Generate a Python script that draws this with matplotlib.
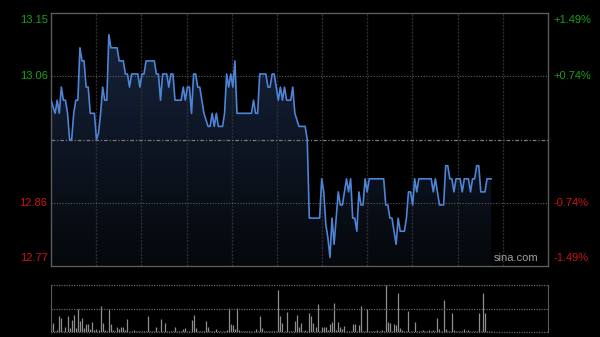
"""Intraday price / volume chart in the sina.com style."""

import matplotlib
matplotlib.use("Agg")
import matplotlib.pyplot as plt
import numpy as np

plt.rcParams["font.family"] = ["Liberation Sans", "DejaVu Sans"]

# ---- data ---------------------------------------------------------------
PREV_CLOSE = 12.96
PCT_RANGE = 1.49          # percent, full half-height of the price panel
N_SLOTS = 241             # minutes in a full trading day

price = [
    13.02, 13.01, 13.00, 13.02, 13.00, 13.04, 13.02, 13.02, 13.00, 12.96,
    12.96, 13.00, 13.02, 13.02, 13.10, 13.08, 13.08, 13.04, 13.04, 13.00,
    13.00, 13.00, 12.96, 12.97, 13.00, 13.04, 13.02, 13.02, 13.12, 13.10,
    13.10, 13.10, 13.10, 13.08, 13.08, 13.08, 13.06, 13.06, 13.04, 13.06,
    13.06, 13.06, 13.06, 13.04, 13.06, 13.06, 13.08, 13.08, 13.08, 13.08,
    13.08, 13.06, 13.06, 13.02, 13.06, 13.06, 13.06, 13.04, 13.06, 13.06,
    13.02, 13.02, 13.02, 13.02, 13.04, 13.02, 13.04, 13.04, 13.00, 13.06,
    13.06, 13.04, 13.04, 13.02, 13.00, 12.99, 12.98, 12.98, 13.00, 12.98,
    13.00, 12.98, 12.98, 12.98, 13.00, 13.06, 13.04, 13.06, 13.04, 13.08,
    13.00, 13.00, 13.00, 13.00, 13.00, 13.00, 13.00, 13.00, 13.02, 13.00,
    13.00, 13.06, 13.06, 13.06, 13.06, 13.04, 13.04, 13.06, 13.06, 13.04,
    13.02, 13.04, 13.02, 13.04, 13.02, 13.02, 13.02, 13.04, 13.00, 12.99,
    12.98, 12.98, 12.98, 12.98, 12.96, 12.84, 12.84, 12.84, 12.84, 12.84,
    12.84, 12.90, 12.88, 12.83, 12.81, 12.78, 12.84, 12.80, 12.84, 12.88,
    12.86, 12.86, 12.88, 12.90, 12.88, 12.90, 12.84, 12.84, 12.82, 12.88,
    12.86, 12.86, 12.90, 12.88, 12.90, 12.90, 12.90, 12.90, 12.90, 12.90,
    12.90, 12.90, 12.86, 12.86, 12.84, 12.84, 12.82, 12.80, 12.84, 12.82,
    12.82, 12.82, 12.84, 12.88, 12.88, 12.86, 12.90, 12.88, 12.90, 12.90,
    12.90, 12.90, 12.90, 12.90, 12.90, 12.88, 12.90, 12.88, 12.86, 12.86,
    12.86, 12.92, 12.92, 12.90, 12.90, 12.88, 12.90, 12.90, 12.90, 12.88,
    12.90, 12.90, 12.90, 12.88, 12.90, 12.90, 12.92, 12.92, 12.88, 12.88,
    12.88, 12.90, 12.90, 12.90,
]

volume = [
    15, 20, 3, 5, 33, 29, 2, 11, 34, 8,
    26, 36, 8, 48, 24, 29, 8, 18, 18, 6,
    22, 4, 6, 4, 55, 20, 4, 3, 50, 17,
    4, 3, 10, 6, 10, 11, 4, 27, 3, 3,
    4, 2, 3, 3, 3, 2, 3, 33, 3, 3,
    2, 11, 3, 27, 3, 20, 3, 2, 3, 2,
    10, 3, 3, 2, 6, 8, 3, 2, 26, 36,
    8, 3, 2, 3, 3, 24, 11, 3, 2, 3,
    6, 2, 3, 2, 3, 4, 52, 17, 15, 6,
    52, 4, 2, 3, 2, 3, 2, 3, 2, 6,
    3, 33, 8, 3, 3, 2, 3, 3, 2, 3,
    90, 33, 20, 3, 43, 3, 2, 3, 24, 36,
    11, 20, 3, 4, 3, 41, 33, 20, 10, 60,
    3, 10, 10, 10, 4, 17, 22, 62, 4, 22,
    10, 6, 13, 3, 2, 3, 18, 18, 3, 15,
    55, 3, 3, 48, 3, 2, 3, 2, 4, 3,
    4, 3, 100, 22, 20, 3, 17, 15, 84, 8,
    4, 3, 2, 45, 3, 3, 22, 3, 2, 3,
    4, 2, 3, 4, 2, 4, 3, 30, 6, 3,
    68, 6, 3, 3, 41, 4, 2, 3, 2, 3,
    6, 2, 4, 3, 2, 3, 3, 41, 3, 84,
    41, 2, 3, 2,
]

left_labels = ["13.15", "13.06", "12.86", "12.77"]
right_labels = ["+1.49%", "+0.74%", "-0.74%", "-1.49%"]

# ---- style --------------------------------------------------------------
BG = "#000000"
LINE = "#4d84d6"
BORDER = "#5a5a5a"
UP = "#1aa01a"
DOWN = "#cc1414"


def main() -> None:
    fig = plt.figure(figsize=(6.0, 3.37), dpi=100, facecolor=BG)
    ax = fig.add_axes([0.085, 0.2107, 0.8283, 0.7507], facecolor=BG)
    axv = fig.add_axes([0.085, 0.0148, 0.8283, 0.1395], facecolor=BG)

    x = np.arange(len(price))
    p = np.array(price)
    half = PREV_CLOSE * PCT_RANGE / 100
    lo, hi = PREV_CLOSE - half, PREV_CLOSE + half
    xmax = N_SLOTS - 0.5

    # gradient fill under the price line, clipped to the area below it
    fill = ax.fill_between(x, p, lo, color="none", lw=0)
    grad = np.linspace(0, 1, 256).reshape(-1, 1)
    top_c = np.array([0.09, 0.145, 0.245])
    bot_c = np.array([0.02, 0.03, 0.045])
    img = top_c * (1 - grad[..., None]) + bot_c * grad[..., None]
    im = ax.imshow(img, extent=[0, xmax, lo, hi], aspect="auto",
                   origin="upper", zorder=1)
    im.set_clip_path(fill.get_paths()[0], transform=ax.transData)

    ax.plot(x, p, color=LINE, lw=1.2, zorder=4, solid_joinstyle="round")

    ax.set_xlim(0, xmax)
    ax.set_ylim(lo, hi)
    for xv in np.linspace(0, xmax, 12)[1:-1]:
        ax.axvline(xv, color="#2e2e2e", lw=1.0, ls=(0, (1.5, 1)), zorder=2)
    for yv in (PREV_CLOSE - half / 2, PREV_CLOSE + half / 2):
        ax.axhline(yv, color="#5e5e5e", lw=0.8, ls=(0, (1, 1.5)), zorder=2)
    ax.axhline(PREV_CLOSE, color="#7a7a7a", lw=0.9,
               ls=(0, (3, 1.5, 1, 1.5)), zorder=3)

    ax.set_xticks([])
    ax.set_yticks([])
    for s in ax.spines.values():
        s.set_color(BORDER)
        s.set_linewidth(1.0)

    # price / percent labels
    ypos = [hi, PREV_CLOSE + half / 2, PREV_CLOSE - half / 2, lo]
    vas = ["top", "center", "center", "bottom"]
    cols = [UP, UP, DOWN, DOWN]
    offs = [-0.008, 0, 0, 0.012]
    for lab, rl, yv, va, c, o in zip(left_labels, right_labels, ypos, vas,
                                     cols, offs):
        ya = (yv - lo) / (hi - lo) + o
        ax.text(-0.007, ya, lab, transform=ax.transAxes, ha="right", va=va,
                color=c, fontsize=8)
        ax.text(1.011, ya, rl, transform=ax.transAxes, ha="left", va=va,
                color=c, fontsize=8)

    ax.text(0.98, 0.012, "sina.com", transform=ax.transAxes, ha="right",
            va="bottom", color="#a0a0a0", fontsize=8)

    # volume panel
    v = np.array(volume)
    axv.vlines(np.arange(len(v)), 0, v, color="#8e8e8e", lw=0.9)
    axv.set_xlim(0, xmax)
    axv.set_ylim(0, v.max())
    axv.set_xticks([])
    axv.set_yticks([])
    for side in ("top", "bottom"):
        axv.spines[side].set_visible(False)
    for side in ("left", "right"):
        axv.spines[side].set_color(BORDER)
    for yv in (0, v.max() / 2, v.max()):
        axv.axhline(yv, color="#666666", lw=0.9, ls=(0, (1, 1)),
                    clip_on=False)

    fig.savefig("out.png", dpi=100, facecolor=BG)


if __name__ == "__main__":
    main()
